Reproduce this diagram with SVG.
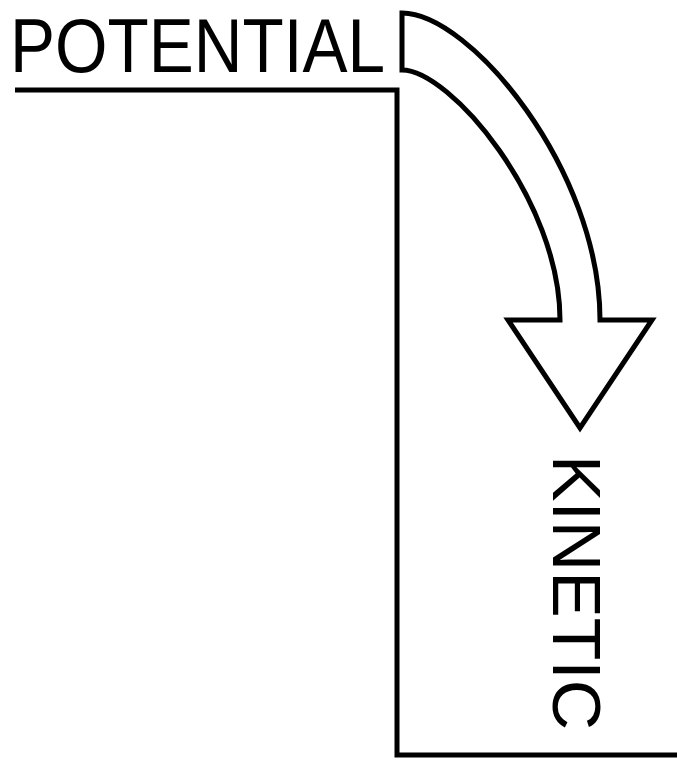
<svg xmlns="http://www.w3.org/2000/svg" width="677" height="760" viewBox="0 0 677 760">
<style>
.ln{fill:none;stroke:#000;stroke-width:5;stroke-linejoin:miter}
.lbl{font-family:"Liberation Sans",Arial,sans-serif;fill:#000}
</style>
<rect width="677" height="760" fill="#fff"/>
<g id="cliff">
<path class="ln" d="M15,90 H397 V755 H677"/>
</g>
<g id="connectors">
<path class="ln" d="M402,13 C470,13 600,170 600,320 L652,320 L580,428 L508,320 L560,320 C560,200 450,70 402,70 Z" fill="#fff"/>
</g>
<g id="potential">
<text class="lbl" x="10" y="72" font-size="76" textLength="375" lengthAdjust="spacingAndGlyphs">POTENTIAL</text>
</g>
<g id="kinetic">
<text class="lbl" transform="translate(553,455) rotate(90)" font-size="68" textLength="275" lengthAdjust="spacingAndGlyphs">KINETIC</text>
</g>
</svg>
